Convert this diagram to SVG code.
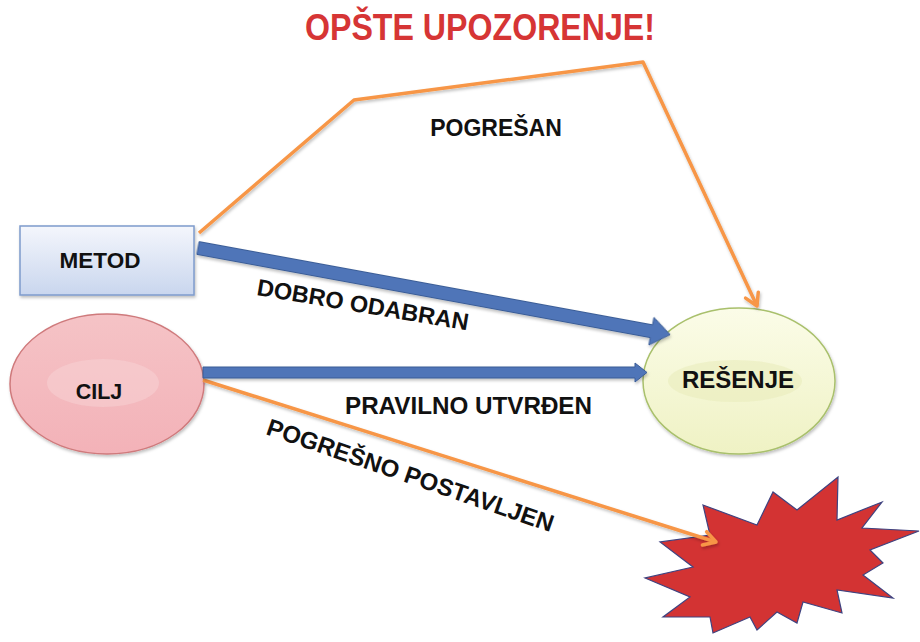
<svg xmlns="http://www.w3.org/2000/svg" width="920" height="642" viewBox="0 0 920 642">
  <defs>
    <linearGradient id="gMetod" x1="0" y1="0" x2="0" y2="1">
      <stop offset="0" stop-color="#f4f6fc"/>
      <stop offset="1" stop-color="#c9d6ee"/>
    </linearGradient>
    <linearGradient id="gCilj" x1="0" y1="0" x2="0" y2="1">
      <stop offset="0" stop-color="#f5c3c6"/>
      <stop offset="1" stop-color="#f3b2b8"/>
    </linearGradient>
    <linearGradient id="gRes" x1="0" y1="0" x2="0" y2="1">
      <stop offset="0" stop-color="#fbfce8"/>
      <stop offset="1" stop-color="#eff2c4"/>
    </linearGradient>
    <filter id="shadow" x="-10%" y="-10%" width="130%" height="140%">
      <feDropShadow dx="1" dy="2" stdDeviation="1.5" flood-color="#000" flood-opacity="0.25"/>
    </filter>
    <marker id="openArrow" markerUnits="userSpaceOnUse" markerWidth="20" markerHeight="20" viewBox="-14 -10 18 20" refX="0" refY="0" orient="auto">
      <path d="M-12,-7 L0,0 L-12,7" fill="none" stroke="#f79646" stroke-width="3.5" stroke-linecap="round" stroke-linejoin="round"/>
    </marker>
  </defs>
  <style>
    .lbl { font-family: "Liberation Sans", Arial, sans-serif; font-weight: bold; fill: #111; }
    .orange { fill: none; stroke: #f79646; stroke-width: 3.5; stroke-linejoin: round; }
    .blue { fill: #5075b8; stroke: #3b5d96; stroke-width: 1; }
  </style>
  <rect width="920" height="642" fill="#ffffff"/>

  <text class="lbl" x="480" y="40" text-anchor="middle" font-size="36" style="fill:#d63535" textLength="350" lengthAdjust="spacingAndGlyphs">OPŠTE UPOZORENJE!</text>

  <g id="metod">
    <rect x="20" y="226" width="174" height="69" fill="url(#gMetod)" stroke="#7e9bcc" stroke-width="1.5" filter="url(#shadow)"/>
    <text class="lbl" x="100" y="268" text-anchor="middle" font-size="22.5">METOD</text>
  </g>

  <g id="cilj">
    <ellipse cx="107" cy="384" rx="97" ry="70" fill="url(#gCilj)" stroke="#cf7a7c" stroke-width="1.5" filter="url(#shadow)"/>
    <ellipse cx="103" cy="383" rx="56" ry="24" fill="#f7d3d6" opacity="0.5"/>
    <text class="lbl" x="99" y="399" text-anchor="middle" font-size="21.5">CILJ</text>
  </g>

  <g id="resenje">
    <ellipse cx="739" cy="381" rx="96" ry="73" fill="url(#gRes)" stroke="#a9c06c" stroke-width="1.5" filter="url(#shadow)"/>
    <ellipse cx="735" cy="381" rx="67" ry="21" fill="#e9ecbc" opacity="0.6"/>
    <text class="lbl" x="738" y="388" text-anchor="middle" font-size="24">REŠENJE</text>
  </g>

  <g id="explosion">
    <polygon points="703,505 757,525 773,492 797,510 838,477 837,520 882,502 862,528 919,531 870,550 883,563 863,575 893,598 837,590 842,613 803,602 797,623 777,612 757,630 750,617 713,633 710,617 663,617 690,597 645,578 693,567 660,542 710,535" fill="#d33333" stroke="#3f4380" stroke-width="1.2" stroke-linejoin="miter"/>
  </g>

  <g id="connectors">
    <polyline class="orange" points="199,233 354,100 643,62 757,306" marker-end="url(#openArrow)" filter="url(#shadow)"/>
    <line class="orange" x1="203" y1="380" x2="716" y2="542" marker-end="url(#openArrow)" filter="url(#shadow)"/>
    <g transform="translate(198,248) rotate(10.4)" filter="url(#shadow)">
      <polygon class="blue" points="0,-6.5 461,-6.5 461,-14 480,0 461,14 461,6.5 0,6.5"/>
    </g>
    <polygon class="blue" points="203,367 635,367 635,363 647,372.5 635,382 635,378 203,378" filter="url(#shadow)"/>
  </g>

  <g id="labels">
    <text class="lbl" x="496" y="136" text-anchor="middle" font-size="23">POGREŠAN</text>
    <text class="lbl" transform="translate(256,295) rotate(9.5)" font-size="23.5">DOBRO ODABRAN</text>
    <text class="lbl" x="345" y="414" font-size="24" textLength="247" lengthAdjust="spacingAndGlyphs">PRAVILNO UTVRĐEN</text>
    <text class="lbl" transform="translate(265,434) rotate(19)" font-size="24">POGREŠNO POSTAVLJEN</text>
  </g>
</svg>
